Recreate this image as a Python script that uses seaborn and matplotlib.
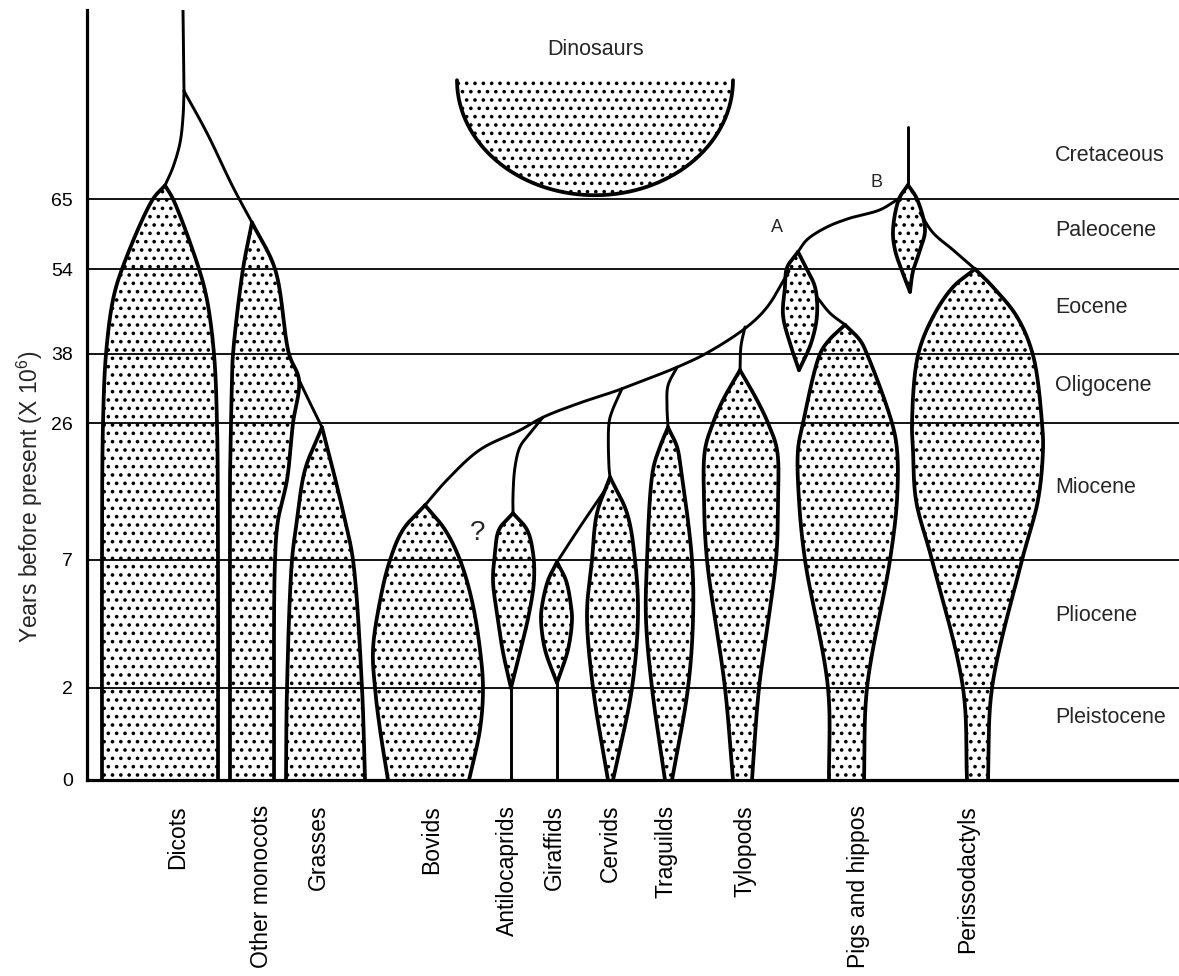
import numpy as np
import matplotlib
matplotlib.use("Agg")
import matplotlib.pyplot as plt
import seaborn as sns

# ---------------- time scale (the figure's axis is non-linear) ----------------
AGE_KNOTS = [0, 2, 7, 26, 38, 54, 65, 100]
POS_KNOTS = [0, 92, 220, 357, 426, 511, 581, 770]
TICK_AGES = [0, 2, 7, 26, 38, 54, 65]
TICK_LABELS = ["0", "2", "7", "26", "38", "54", "65"]

PERIODS = ["Cretaceous", "Paleocene", "Eocene", "Oligocene",
           "Miocene", "Pliocene", "Pleistocene"]
PERIOD_LABEL_AGE = [73.1, 60.1, 46.7, 32.6, 17.0, 4.85, 1.35]

CATEGORIES = ["Dicots", "Other monocots", "Grasses", "Bovids", "Antilocaprids",
              "Giraffids", "Cervids", "Traguilds", "Tylopods",
              "Pigs and hippos", "Perissodactyls"]
LABEL_X = [178, 262, 318, 432, 507, 554, 610, 666, 745, 858, 968]

# ---------------- lineage spindles: ages (Myr) and left / right edges ----------------
DICOTS_AGE = [67.5, 65, 54, 48.2, 38, 26, 7, 0]
DICOTS_L = [165, 153, 122, 113, 106, 103, 102, 102]
DICOTS_R = [165, 173, 199, 207, 214, 217, 218, 218]

MONOCOTS_AGE = [61.3, 54, 38, 33.5, 26, 18.1, 12.5, 7, 0]
MONOCOTS_L = [252, 243, 233, 232, 231, 230, 230, 230, 230]
MONOCOTS_R = [252, 275, 289, 299, 293, 287, 278, 275, 274]

GRASSES_AGE = [25.4, 19.5, 12.5, 7, 2, 0]
GRASSES_L = [322, 305, 297, 292, 287, 286]
GRASSES_R = [322, 333, 345, 353, 362, 365]

BOVIDS_AGE = [14.6, 11.2, 7, 5.4, 3.5, 2, 1.1, 0]
BOVIDS_L = [425, 403, 390, 380, 373, 375, 380, 388]
BOVIDS_R = [425, 445, 460, 472, 480, 483, 480, 469]

ANTILO_AGE = [13.5, 11.2, 8.0, 6.2, 4.9, 3.4, 2.0]
ANTILO_L = [513, 499, 495, 493, 497, 503, 511]
ANTILO_R = [513, 527, 533, 534, 529, 520, 511]

GIRAFF_AGE = [6.92, 6.2, 5.2, 4.66, 3.5, 2.2]
GIRAFF_L = [557, 548, 542, 541, 545, 557]
GIRAFF_R = [557, 566, 571, 572, 568, 557]

CERVID_AGE = [18.5, 13.5, 7, 4.9, 2, 0]
CERVID_L = [610, 597, 592, 587, 593, 608]
CERVID_R = [610, 627, 635, 638, 632, 613]

TRAGUL_AGE = [25.4, 22.7, 19.5, 7, 4.66, 2, 0]
TRAGUL_L = [668, 660, 653, 647, 646, 652, 665]
TRAGUL_R = [668, 677, 681, 692, 693, 688, 672]

TYLO_AGE = [35.2, 30.0, 26, 22.3, 15.3, 7, 2, 0]
TYLO_L = [740, 723, 713, 705, 704, 707, 725, 733]
TYLO_R = [740, 757, 768, 777, 778, 776, 759, 752]

PIGS_AGE = [43.5, 40.6, 38, 26, 22.3, 15.3, 7, 2, 0]
PIGS_L = [845, 829, 820, 803, 798, 799, 805, 828, 829]
PIGS_R = [845, 860, 867, 892, 897, 897, 890, 867, 864]

PERISSO_AGE = [54, 50.6, 45.0, 37.8, 26, 22.3, 15.3, 7, 2, 0]
PERISSO_L = [975, 953, 933, 918, 912, 913, 916, 932, 963, 967]
PERISSO_R = [975, 993, 1017, 1033, 1042, 1043, 1038, 1022, 992, 988]

NODE_B_AGE = [67.6, 65, 60.1, 57.0, 53.6, 49.7]
NODE_B_L = [908, 899, 893, 895, 902, 910]
NODE_B_R = [908, 917, 925, 920, 913, 910]

NODE_A_AGE = [56.7, 54.2, 50.6, 45.3, 40.0, 35.2]
NODE_A_L = [798, 787, 785, 783, 790, 799]
NODE_A_R = [798, 806, 815, 817, 811, 799]

# ---------------- connecting lineages (x, age) ----------------
PLANT_STEM_X, PLANT_STEM_AGE = [183, 184], [100, 85]
TO_DICOTS_X, TO_DICOTS_AGE = [184, 183, 180, 173, 165], [85, 80.2, 75.4, 70.9, 67.5]
TO_MONOCOTS_X, TO_MONOCOTS_AGE = [184, 207, 233, 252], [85, 77.2, 67.2, 61.3]
TO_GRASSES_X, TO_GRASSES_AGE = [299, 310, 322], [33.5, 29.5, 25.4]
MAMMAL_STEM_X, MAMMAL_STEM_AGE = [908, 908], [78.3, 67.6]
B_TO_A_X, B_TO_A_AGE = [900, 880, 850, 827, 807, 798], [65.2, 63.3, 62.0, 60.6, 58.6, 56.7]
B_TO_PER_X, B_TO_PER_AGE = [920, 933, 953, 975], [62.8, 59.7, 57.0, 54.0]
A_TO_PIGS_X, A_TO_PIGS_AGE = [817, 830, 845], [48.7, 45.7, 43.5]
RUMINANT_X = [789, 767, 747, 707, 677, 645, 618, 580, 543, 520, 480, 447, 425]
RUMINANT_AGE = [53.6, 46.8, 43.1, 38.2, 35.7, 33.5, 31.7, 29.5, 27.0, 25.0, 22.3, 18.1, 14.6]
TYLO_STEM_X, TYLO_STEM_AGE = [745, 741, 740], [43.1, 39.5, 35.2]
TRAGUL_STEM_X, TRAGUL_STEM_AGE = [677, 668, 667, 668], [35.7, 32.5, 29.0, 25.4]
CERVID_STEM_X, CERVID_STEM_AGE = [622, 612, 609, 609, 610], [32.0, 28.0, 26.0, 19.9, 18.5]
GIRAFF_STEM_X, GIRAFF_STEM_AGE = [607, 580, 557], [17.1, 11.6, 6.92]
ANTILO_STEM_X = [543, 530, 520, 515, 513, 513]
ANTILO_STEM_AGE = [27.0, 24.6, 22.7, 19.9, 16.0, 13.5]
ANTILO_TAIL_X, ANTILO_TAIL_AGE = [511, 511], [2.0, 0]
GIRAFF_TAIL_X, GIRAFF_TAIL_AGE = [557, 557], [2.2, 0]

# Dinosaurs range (half ellipse)
DINO_X, DINO_HALF_W = 595, 138
DINO_AGES = [87.0, 65.7]

# ---------------- style ----------------
sns.set_theme(style="white")
plt.rcParams["font.family"] = ["Liberation Sans", "DejaVu Sans"]
plt.rcParams["mathtext.default"] = "regular"
plt.rcParams["hatch.linewidth"] = 1.4
plt.rcParams["hatch.color"] = "black"

# ---------------- scale functions ----------------
_s0 = (POS_KNOTS[1] - POS_KNOTS[0]) / (AGE_KNOTS[1] - AGE_KNOTS[0])
_s1 = (POS_KNOTS[-1] - POS_KNOTS[-2]) / (AGE_KNOTS[-1] - AGE_KNOTS[-2])
A_EXT = np.r_[-1e4, AGE_KNOTS, 1e4]
P_EXT = np.r_[POS_KNOTS[0] - 1e4 * _s0, POS_KNOTS, POS_KNOTS[-1] + (1e4 - AGE_KNOTS[-1]) * _s1]


def fwd(a):
    return np.interp(np.asarray(a, float), A_EXT, P_EXT)


def inv(p):
    return np.interp(np.asarray(p, float), P_EXT, A_EXT)


def smooth(x, a, n=30, alpha=0.5):
    """Centripetal Catmull-Rom spline through the points, in screen-like units."""
    P = np.column_stack([np.asarray(x, float), fwd(a)])
    if len(P) < 3:
        return np.asarray(x, float), np.asarray(a, float)
    Q = np.vstack([2 * P[0] - P[1], P, 2 * P[-1] - P[-2]])
    d = np.maximum(np.linalg.norm(np.diff(Q, axis=0), axis=1), 1e-6) ** alpha
    tk = np.r_[0, np.cumsum(d)]
    segs = []
    for i in range(1, len(Q) - 2):
        p0, p1, p2, p3 = Q[i - 1], Q[i], Q[i + 1], Q[i + 2]
        t0, t1, t2, t3 = tk[i - 1], tk[i], tk[i + 1], tk[i + 2]
        t = np.linspace(t1, t2, n, endpoint=False)[:, None]
        A1 = (t1 - t) / (t1 - t0) * p0 + (t - t0) / (t1 - t0) * p1
        A2 = (t2 - t) / (t2 - t1) * p1 + (t - t1) / (t2 - t1) * p2
        A3 = (t3 - t) / (t3 - t2) * p2 + (t - t2) / (t3 - t2) * p3
        B1 = (t2 - t) / (t2 - t0) * A1 + (t - t0) / (t2 - t0) * A2
        B2 = (t3 - t) / (t3 - t1) * A2 + (t - t1) / (t3 - t1) * A3
        segs.append((t2 - t) / (t2 - t1) * B1 + (t - t1) / (t2 - t1) * B2)
    segs.append(P[-1][None])
    S = np.vstack(segs)
    return S[:, 0], inv(S[:, 1])


W, H = 1179, 976
fig = plt.figure(figsize=(W / 100, H / 100), dpi=100)
ax = fig.add_axes([87 / W, 196 / H, (W - 87) / W, 770 / H])
ax.set_yscale("function", functions=(fwd, inv))
ax.set_xlim(87, W)
ax.set_ylim(0, 100)

LW_SP = 2.7
LW_BR = 2.1


def spindle(ages, xl, xr):
    lx, la = smooth(xl, ages)
    rx, ra = smooth(xr, ages)
    ax.fill(np.r_[lx, rx[::-1]], np.r_[la, ra[::-1]], facecolor="none",
            edgecolor="black", hatch="..", linewidth=0, zorder=2)
    ax.plot(lx, la, color="black", lw=LW_SP, solid_capstyle="round",
            solid_joinstyle="round", zorder=3)
    ax.plot(rx, ra, color="black", lw=LW_SP, solid_capstyle="round",
            solid_joinstyle="round", zorder=3)


def branch(x, a, lw=LW_BR):
    sx, sa = smooth(x, a)
    ax.plot(sx, sa, color="black", lw=lw, solid_capstyle="round", zorder=3)


SPINDLES = [
    (DICOTS_AGE, DICOTS_L, DICOTS_R), (MONOCOTS_AGE, MONOCOTS_L, MONOCOTS_R),
    (GRASSES_AGE, GRASSES_L, GRASSES_R), (BOVIDS_AGE, BOVIDS_L, BOVIDS_R),
    (ANTILO_AGE, ANTILO_L, ANTILO_R), (GIRAFF_AGE, GIRAFF_L, GIRAFF_R),
    (CERVID_AGE, CERVID_L, CERVID_R), (TRAGUL_AGE, TRAGUL_L, TRAGUL_R),
    (TYLO_AGE, TYLO_L, TYLO_R), (PIGS_AGE, PIGS_L, PIGS_R),
    (PERISSO_AGE, PERISSO_L, PERISSO_R), (NODE_B_AGE, NODE_B_L, NODE_B_R),
    (NODE_A_AGE, NODE_A_L, NODE_A_R),
]
for ages, xl, xr in SPINDLES:
    spindle(ages, xl, xr)

BRANCHES = [
    (PLANT_STEM_X, PLANT_STEM_AGE), (TO_DICOTS_X, TO_DICOTS_AGE),
    (TO_MONOCOTS_X, TO_MONOCOTS_AGE), (TO_GRASSES_X, TO_GRASSES_AGE),
    (MAMMAL_STEM_X, MAMMAL_STEM_AGE), (B_TO_A_X, B_TO_A_AGE),
    (B_TO_PER_X, B_TO_PER_AGE), (A_TO_PIGS_X, A_TO_PIGS_AGE),
    (RUMINANT_X, RUMINANT_AGE), (TYLO_STEM_X, TYLO_STEM_AGE),
    (TRAGUL_STEM_X, TRAGUL_STEM_AGE), (CERVID_STEM_X, CERVID_STEM_AGE),
    (GIRAFF_STEM_X, GIRAFF_STEM_AGE), (ANTILO_STEM_X, ANTILO_STEM_AGE),
    (ANTILO_TAIL_X, ANTILO_TAIL_AGE), (GIRAFF_TAIL_X, GIRAFF_TAIL_AGE),
]
for bx, ba in BRANCHES:
    branch(bx, ba)

# Dinosaurs
t = np.linspace(0, np.pi, 200)
top_p, bot_p = fwd(DINO_AGES)
dx = DINO_X + DINO_HALF_W * np.cos(t)
da = inv(top_p - (top_p - bot_p) * np.sin(t))
ax.fill(dx, da, facecolor="none", edgecolor="black", hatch="..", linewidth=0, zorder=2)
ax.plot(dx, da, color="black", lw=LW_SP, zorder=3)
ax.text(DINO_X + 1, 92.6, "Dinosaurs", ha="center", va="center", fontsize=15.5)

# node labels
ax.text(777, 60.6, "A", ha="center", va="center", fontsize=13)
ax.text(876, 68.1, "B", ha="center", va="center", fontsize=13)
ax.text(478, 10.7, "?", ha="center", va="center", fontsize=20)

# period labels
for name, ag in zip(PERIODS, PERIOD_LABEL_AGE):
    ax.text(1055, ag, name, ha="left", va="center", fontsize=15.5)

# axes, ticks, grid
ax.set_yticks(TICK_AGES, TICK_LABELS)
ax.set_xticks(LABEL_X, CATEGORIES, rotation=90)
ax.tick_params(axis="y", length=0, pad=10, labelsize=14, colors="black")
ax.tick_params(axis="x", length=0, pad=18, labelsize=16.5, colors="black")
ax.grid(False)
ax.yaxis.grid(True, color="black", linewidth=1.3)
for side in ["top", "right"]:
    ax.spines[side].set_visible(False)
for side in ["left", "bottom"]:
    ax.spines[side].set_color("black")
    ax.spines[side].set_linewidth(2.3)
ax.set_facecolor("white")

fig.text(30 / W, 1 - 497 / H, "Years before present (X 10$^{6}$)", rotation=90,
         ha="center", va="center", fontsize=16.5)

fig.savefig("out.png", dpi=100, facecolor="white")
